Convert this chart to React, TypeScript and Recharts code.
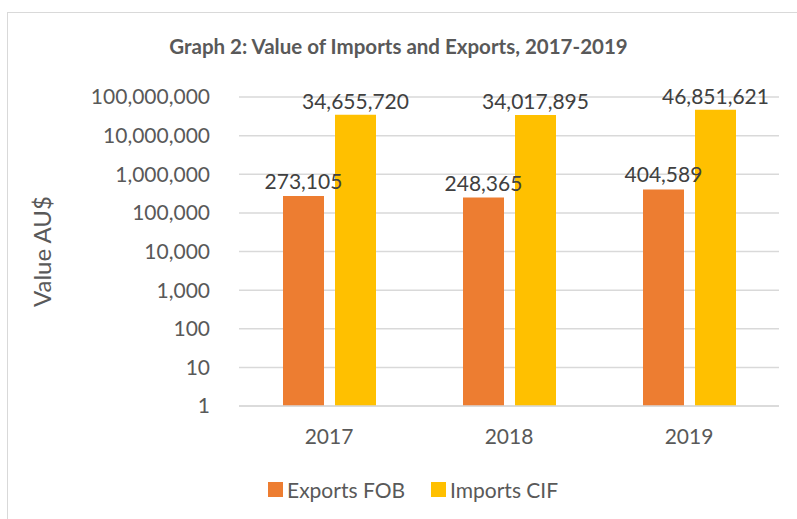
import { BarChart, Bar, XAxis, YAxis, CartesianGrid, LabelList } from "recharts";

const years = ["2017", "2018", "2019"];
const exportsFob = [273105, 248365, 404589];
const importsCif = [34655720, 34017895, 46851621];
const yTicks = [1, 10, 100, 1000, 10000, 100000, 1000000, 10000000, 100000000];

const FONT = "Lato, 'Open Sans', sans-serif";
const GREY = "#595959";

const data = years.map((y, i) => ({ year: y, exports: exportsFob[i], imports: importsCif[i] }));

const fmt = (v: number) => v.toLocaleString("en-US");

const legendItems = [
  { name: "Exports FOB", color: "#ED7D31" },
  { name: "Imports CIF", color: "#FFC000" },
];

export default function App() {
  return (
    <div style={{ position: "absolute", left: 0, top: 0, width: 797, height: 519, background: "#fff", overflow: "hidden" }}>
      <div
        style={{
          position: "absolute",
          left: 7,
          top: 12,
          width: 820,
          height: 540,
          border: "1px solid #d9d9d9",
          boxSizing: "border-box",
        }}
      />
      <div
        style={{
          position: "absolute",
          left: 0,
          width: 797,
          top: 34,
          textAlign: "center",
          fontFamily: FONT,
          fontWeight: 700,
          fontSize: 20.5,
          color: GREY,
        }}
      >
        Graph 2: Value of Imports and Exports, 2017-2019
      </div>
      <div style={{ position: "absolute", left: 0, top: 0 }}>
        <BarChart
          width={797}
          height={519}
          data={data}
          margin={{ top: 97, right: 18, bottom: 0, left: 0 }}
          barGap={11}
          barSize={41}
        >
          <CartesianGrid vertical={false} stroke="#d9d9d9" strokeWidth={1.5} />
          <XAxis
            dataKey="year"
            height={113}
            axisLine={{ stroke: "#d9d9d9", strokeWidth: 1.5 }}
            tickLine={false}
            tickMargin={17}
            tick={{ fontFamily: FONT, fontSize: 21, fill: GREY }}
          />
          <YAxis
            scale="log"
            domain={[1, 100000000]}
            ticks={yTicks}
            width={239}
            axisLine={false}
            tickLine={false}
            tickSize={29}
            tickMargin={0}
            tickFormatter={fmt}
            allowDataOverflow
            tick={{ fontFamily: FONT, fontSize: 21, fill: GREY }}
            label={{
              value: "Value AU$",
              angle: -90,
              position: "insideLeft",
              dx: 37,
              style: { fontFamily: FONT, fontSize: 24, fill: GREY, textAnchor: "middle" },
            }}
          />
          <Bar dataKey="exports" name="Exports FOB" fill="#ED7D31" isAnimationActive={false}>
            <LabelList
              dataKey="exports"
              position="top"
              offset={7}
              formatter={(v: any) => fmt(Number(v))}
              style={{ fontFamily: FONT, fontSize: 21, fill: "#404040" }}
            />
          </Bar>
          <Bar dataKey="imports" name="Imports CIF" fill="#FFC000" isAnimationActive={false}>
            <LabelList
              dataKey="imports"
              position="top"
              offset={6}
              formatter={(v: any) => fmt(Number(v))}
              style={{ fontFamily: FONT, fontSize: 21, fill: "#404040" }}
            />
          </Bar>
        </BarChart>
      </div>
      <div
        style={{
          position: "absolute",
          left: 268,
          top: 477,
          display: "flex",
          gap: 26,
          fontFamily: FONT,
          fontSize: 21,
          color: GREY,
        }}
      >
        {legendItems.map((it) => (
          <span key={it.name} style={{ display: "flex", alignItems: "center", gap: 4 }}>
            <span style={{ width: 15, height: 15, background: it.color, display: "inline-block" }} />
            {it.name}
          </span>
        ))}
      </div>
    </div>
  );
}
